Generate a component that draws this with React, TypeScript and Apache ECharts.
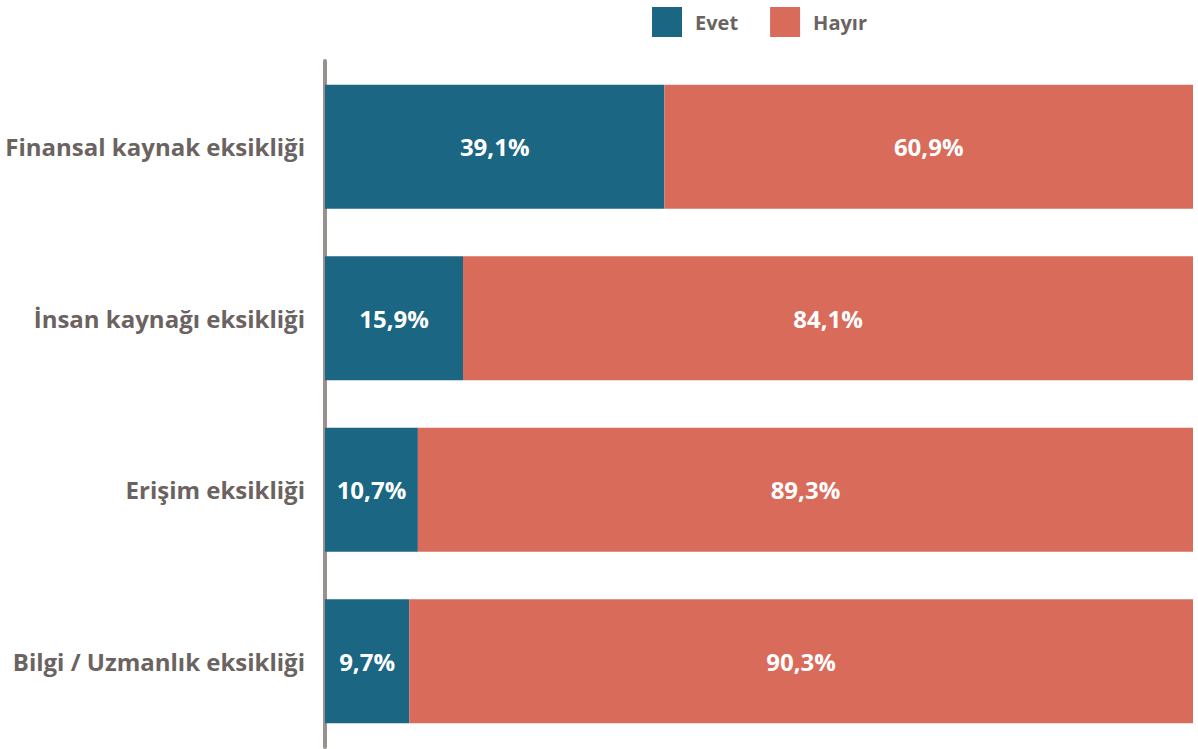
import React, { useEffect, useRef } from "react";
import * as echarts from "echarts";

const categories = [
  "Finansal kaynak eksikliği",
  "İnsan kaynağı eksikliği",
  "Erişim eksikliği",
  "Bilgi / Uzmanlık eksikliği",
];
const evet = [39.1, 15.9, 10.7, 9.7];
const hayir = [60.9, 84.1, 89.3, 90.3];

const FONT = "'Open Sans', sans-serif";
const fmt = (v: number) => v.toFixed(1).replace(".", ",") + "%";

export default function App() {
  const ref = useRef<HTMLDivElement>(null);
  useEffect(() => {
    const chart = echarts.init(ref.current!, undefined, { renderer: "svg" });
    const lbl = { show: true, position: "inside", formatter: (p: any) => fmt(p.value), color: "#fff", fontFamily: FONT, fontWeight: "bold", fontSize: 24 };
    chart.setOption({
      animation: false,
      legend: {
        top: 2,
        left: 647,
        itemWidth: 30,
        itemHeight: 30,
        itemGap: 32,
        icon: "rect",
        textStyle: { fontFamily: FONT, fontWeight: "bold", fontSize: 20, color: "#6b6361", padding: [0, 0, 0, 8] },
        data: ["Evet", "Hayır"],
      },
      grid: { left: 325, right: 5, top: 61, bottom: 2, containLabel: false },
      xAxis: { type: "value", min: 0, max: 100, show: false },
      yAxis: {
        type: "category",
        inverse: true,
        data: categories,
        axisLine: { show: true, lineStyle: { color: "#9a918f", width: 4 } },
        axisTick: { show: false },
        axisLabel: { fontFamily: FONT, fontWeight: "bold", fontSize: 24, color: "#6b6361", margin: 20 },
      },
      series: [
        {
          name: "Evet",
          type: "bar",
          stack: "s",
          data: evet,
          barCategoryGap: "27.7%",
          itemStyle: { color: "#1b6683" },
          label: lbl,
        },
        {
          name: "Hayır",
          type: "bar",
          stack: "s",
          data: hayir,
          barCategoryGap: "27.7%",
          itemStyle: { color: "#d96b5b" },
          label: lbl,
        },
      ],
    });
    return () => chart.dispose();
  }, []);
  return <div ref={ref} style={{ width: 1198, height: 749, position: "absolute", left: 0, top: 0 }} />;
}
